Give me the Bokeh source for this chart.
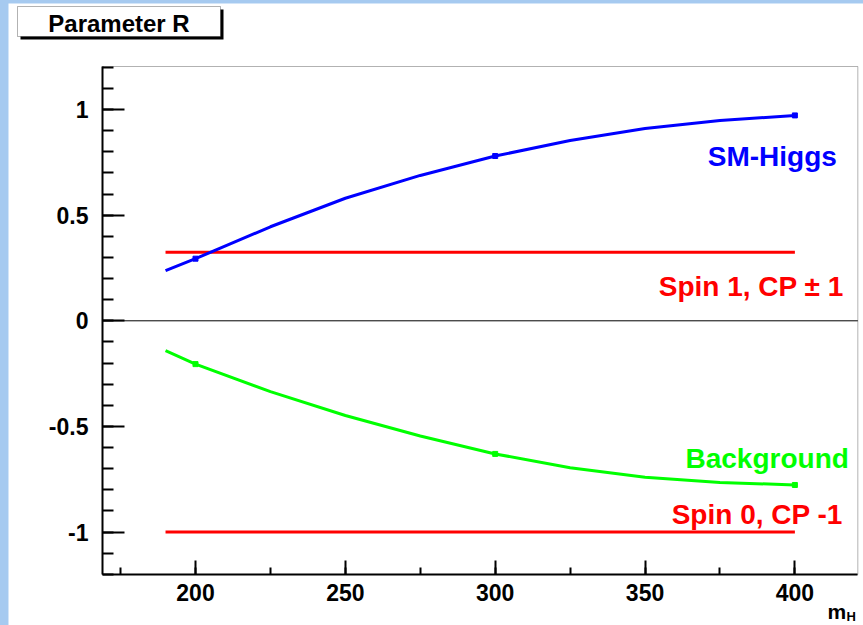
import numpy as np
from bokeh.plotting import figure
from bokeh.layouts import column
from bokeh.models import Range1d, Label, BoxAnnotation, FixedTicker, LinearAxis
from bokeh.embed import file_html
from bokeh.resources import INLINE

# R versus Higgs mass for the different hypotheses
mass = [190, 200, 225, 250, 275, 300, 325, 350, 375, 400]
r_sm_higgs = [0.237, 0.294, 0.445, 0.580, 0.688, 0.780, 0.853, 0.910, 0.948, 0.972]
r_background = [-0.141, -0.205, -0.335, -0.448, -0.545, -0.630, -0.695, -0.740, -0.765, -0.777]

# computed mass points
point_mass = [200, 300, 400]
point_sm_higgs = [0.294, 0.780, 0.972]
point_background = [-0.205, -0.630, -0.777]

# constant expectations for the spin hypotheses
spin_mass = [190, 400]
r_spin1 = [0.324, 0.324]
r_spin0 = [-1.0, -1.0]

x_ticks = [200, 250, 300, 350, 400]
y_ticks = [-1, -0.5, 0, 0.5, 1]
y_tick_labels = {-1: "-1", -0.5: "-0.5", 0: "0", 0.5: "0.5", 1: "1"}

# axis frame extent in data units
FRAME_X = (168.97, 421.0)
FRAME_Y = (-1.2007, 1.2035)

FONT = "Liberation Sans"
BLUE, RED, GREEN = "#0000ff", "#ff0000", "#00ff00"
CANVAS_BLUE = "#a6caf0"

# the drawing area covers the whole pad; the axes sit at fixed positions inside it
p = figure(width=855, height=622, output_backend="svg", toolbar_location=None,
           x_range=Range1d(137.604, 422.893), y_range=Range1d(-1.44202, 1.50166),
           x_axis_location=None, y_axis_location=None,
           min_border_left=0, min_border_right=0, min_border_top=0, min_border_bottom=0)
p.margin = (3, 0, 0, 8)
p.background_fill_color = "white"
p.border_fill_color = "white"
p.outline_line_color = None
p.xgrid.visible = False
p.ygrid.visible = False

xaxis = LinearAxis(fixed_location=FRAME_Y[0], bounds=FRAME_X,
                   ticker=FixedTicker(ticks=x_ticks, minor_ticks=list(np.arange(175, 425, 25))))
yaxis = LinearAxis(fixed_location=FRAME_X[0], bounds=FRAME_Y,
                   ticker=FixedTicker(ticks=y_ticks,
                                      minor_ticks=list(np.round(np.arange(-1.2, 1.21, 0.1), 2))))
yaxis.major_label_overrides = y_tick_labels
for ax in (xaxis, yaxis):
    ax.axis_line_width = 2
    ax.axis_line_color = "black"
    ax.major_tick_line_width = 2
    ax.minor_tick_line_width = 2
    ax.major_tick_out = 0
    ax.minor_tick_out = 0
    ax.major_label_text_font = FONT
    ax.major_label_text_font_style = "bold"
    ax.major_label_text_font_size = "23px"
    ax.major_label_text_color = "black"
xaxis.major_tick_in = 14
xaxis.minor_tick_in = 7
xaxis.major_label_standoff = 9
yaxis.major_tick_in = 22
yaxis.minor_tick_in = 11
yaxis.major_label_standoff = 14
p.add_layout(xaxis, "below")
p.add_layout(yaxis, "left")

# frame border (top and right edges)
p.add_layout(BoxAnnotation(left=FRAME_X[0], right=FRAME_X[1], bottom=FRAME_Y[0], top=FRAME_Y[1],
                           fill_alpha=0, line_color="black", line_width=1))

# zero line across the frame
p.segment(x0=[FRAME_X[0]], y0=[0], x1=[FRAME_X[1]], y1=[0], line_color="black", line_width=1)

# curves
p.line(spin_mass, r_spin1, line_color=RED, line_width=3)
p.line(spin_mass, r_spin0, line_color=RED, line_width=3)
p.line(mass, r_sm_higgs, line_color=BLUE, line_width=3)
p.line(mass, r_background, line_color=GREEN, line_width=3)
p.scatter(point_mass, point_sm_higgs, marker="square", size=5, color=BLUE)
p.scatter(point_mass, point_background, marker="square", size=5, color=GREEN)

# curve labels
def curve_label(x, y, text, color):
    p.add_layout(Label(x=x, y=y, text=text, text_align="right", text_baseline="alphabetic",
                       text_font=FONT, text_font_style="bold", text_font_size="28px",
                       text_color=color))

curve_label(414, 0.777, "SM-Higgs", BLUE)
curve_label(416.3, 0.161, "Spin 1, CP \u00b1 1", RED)
curve_label(418, -0.654, "Background", GREEN)
curve_label(416, -0.915, "Spin 0, CP -1", RED)

# title pave with drop shadow (screen units, measured from the lower-left corner)
p.add_layout(BoxAnnotation(left=12, right=215, top=616, bottom=586,
                           left_units="screen", right_units="screen",
                           top_units="screen", bottom_units="screen",
                           fill_color="black", fill_alpha=1, line_color=None))
p.add_layout(BoxAnnotation(left=9, right=212, top=619, bottom=589,
                           left_units="screen", right_units="screen",
                           top_units="screen", bottom_units="screen",
                           fill_color="white", fill_alpha=1, line_color="black", line_width=1))
p.add_layout(Label(x=110.5, y=602, x_units="screen", y_units="screen",
                   text="Parameter R", text_align="center", text_baseline="alphabetic",
                   text_font=FONT, text_font_style="bold", text_font_size="24px",
                   text_color="black", level="overlay"))

# x axis title m_H
p.add_layout(Label(x=819, y=14, x_units="screen", y_units="screen", text="m",
                   text_baseline="alphabetic", text_font=FONT, text_font_style="bold",
                   text_font_size="21px", text_color="black"))
p.add_layout(Label(x=838, y=9, x_units="screen", y_units="screen", text="H",
                   text_baseline="alphabetic", text_font=FONT, text_font_style="bold",
                   text_font_size="13px", text_color="black"))

page = column(p, styles={"background-color": CANVAS_BLUE})
open("out.html", "w").write(file_html(page, INLINE))
